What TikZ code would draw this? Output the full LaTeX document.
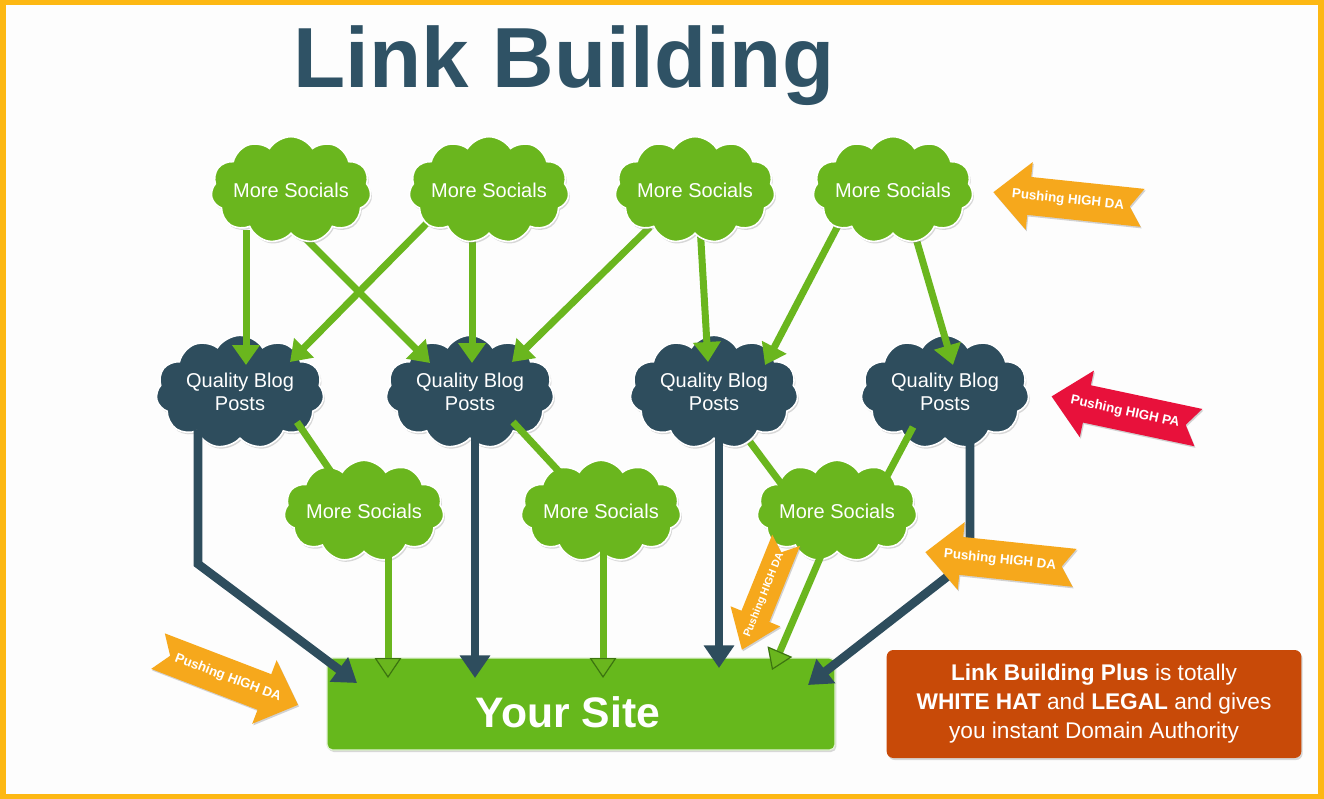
\documentclass[tikz,border=0pt]{standalone}
\usepackage{fontspec}
\setmainfont{Liberation Sans}
\usetikzlibrary{shapes.symbols, arrows.meta, shadows, calc}
\definecolor{frameY}{HTML}{FDB813}
\definecolor{bgc}{HTML}{FDFDFD}
\definecolor{cgreen}{HTML}{6AB61E}
\definecolor{cgreendk}{HTML}{3C7410}
\definecolor{cdark}{HTML}{2E4D5D}
\definecolor{titlec}{HTML}{2F5265}
\definecolor{boxo}{HTML}{C84A08}
\definecolor{porange}{HTML}{F6A81C}
\definecolor{pred}{HTML}{E8113B}
\definecolor{sitegreen}{HTML}{66B81C}
\pgfdeclarelayer{bglayer}
\pgfdeclarelayer{lower}
\pgfdeclarelayer{mid}
\pgfdeclarelayer{upper}
\pgfsetlayers{bglayer,lower,mid,main,upper}
\tikzset{
  gcloud/.style={cloud, cloud puffs=11, cloud puff arc=115, cloud ignores aspect,
    fill=cgreen, draw=white, line width=1.2pt, minimum width=102pt, minimum height=80pt,
    inner sep=0pt, text=white, font=\fontsize{15}{17.25}\selectfont, align=center,
    drop shadow={shadow xshift=1pt, shadow yshift=-1.5pt, opacity=0.3}},
  dcloud/.style={gcloud, fill=cdark, minimum width=126pt, minimum height=85pt},
  bcloud/.style={gcloud, minimum width=108pt, minimum height=76pt},
  gline/.style={draw=cgreen, line width=5.25pt},
  garrow/.style={draw=cgreen, line width=5.25pt, -{Triangle[width=20pt,length=15pt]}},
  gsarrow/.style={draw=cgreen, line width=5.25pt, -{Triangle[width=20pt,length=15pt,fill=cgreen,color=cgreendk,line width=0.9pt]}},
  darrow/.style={draw=cdark, line width=6.5pt, line join=miter, -{Triangle[width=22pt,length=17pt]}},
  pushtext/.style={text=white, font=\bfseries\fontsize{10}{12}\selectfont, inner sep=0pt},
  pushsmall/.style={pushtext, font=\bfseries\fontsize{8}{10}\selectfont},
}
% #1 name, #2 x, #3 y, #4 rotation, #5 direction (1 right, -1 left), #6 colour, #7 text, #8 length, #9 text style
\newcommand{\pusharrow}[9]{%
  \begin{scope}[shift={(#2,#3)}, rotate=#4]
    \fill[#6, xscale=#5, drop shadow={shadow xshift=0.8pt, shadow yshift=-1.2pt, opacity=0.35}]
      ({-#8/2},{0.127*#8}) -- ({#8/2-36},{0.127*#8}) -- ({#8/2-36},{0.227*#8}) -- ({#8/2},0)
      -- ({#8/2-36},{-0.227*#8}) -- ({#8/2-36},{-0.127*#8}) -- ({-#8/2},{-0.127*#8})
      -- ({-#8/2+13},0) -- cycle;
    \node[#9, transform shape] (#1) at (0,0) {#7};
  \end{scope}}
\begin{document}
\begin{tikzpicture}[x=0.75pt, y=-0.75pt]
\useasboundingbox (0,0) rectangle (1324,799);
\begin{pgfonlayer}{bglayer}
\fill[frameY] (0,0) rectangle (1324,799);
\fill[bgc] (6,5) rectangle (1318,794);
\node[anchor=base, inner sep=0pt, text=titlec, font=\bfseries\fontsize{64}{64}\selectfont] (title) at (564,88) {Link Building};
\end{pgfonlayer}
% top clouds (main layer)
\node[gcloud] (t1) at (291,190) {More Socials};
\node[gcloud] (t2) at (489,190) {More Socials};
\node[gcloud] (t3) at (695,190) {More Socials};
\node[gcloud] (t4) at (893,190) {More Socials};
\begin{pgfonlayer}{lower}
\node[dcloud] (d1) at (240,392) {Quality Blog\\Posts};
\node[dcloud] (d2) at (470,392) {Quality Blog\\Posts};
\node[dcloud] (d3) at (714,392) {Quality Blog\\Posts};
\node[dcloud] (d4) at (945,392) {Quality Blog\\Posts};
\node[bcloud] (b1) at (364,511) {More Socials};
\node[bcloud] (b2) at (601,511) {More Socials};
\node[bcloud] (b3) at (837,511) {More Socials};
\end{pgfonlayer}
\begin{pgfonlayer}{mid}
\draw[gline] ($(d1)+(57,30)$) -- ($(b1)+(-22,-23)$);
\draw[gline] ($(d2)+(43,30)$) -- ($(b2)+(-24,-20)$);
\draw[gline] ($(d3)+(36,50)$) -- ($(b3)+(-49,-18)$);
\draw[gline] ($(d4)+(-32,35)$) -- ($(b3)+(41,-18)$);
\draw[garrow] ($(t1)+(-45,40)$) -- ($(d1)+(6,-27)$);
\draw[garrow] ($(t1)+(-1,33)$) -- ($(d2)+(-40,-29)$);
\draw[garrow] ($(t2)+(-62,33)$) -- ($(d1)+(50,-30)$);
\draw[garrow] ($(t2)+(-17,40)$) -- ($(d2)+(2,-29)$);
\draw[garrow] ($(t3)+(-45,37)$) -- ($(d2)+(42,-30)$);
\draw[garrow] ($(t3)+(5,35)$) -- ($(d3)+(-6,-30)$);
\draw[garrow] ($(t4)+(-51,28)$) -- ($(d3)+(51,-27)$);
\draw[garrow] ($(t4)+(17,28)$) -- ($(d4)+(8,-27)$);
\end{pgfonlayer}
% site box and info box
\node[fill=sitegreen, draw=white!80!sitegreen, line width=1pt, rounded corners=4pt,
  minimum width=381pt, minimum height=69pt, inner sep=0pt,
  drop shadow={shadow xshift=1pt, shadow yshift=-1.5pt, opacity=0.3}] (site) at (581,704) {};
\node[text=white, font=\bfseries\fontsize{32}{32}\selectfont, inner sep=0pt] (sitelabel) at (568,712) {Your Site};
\node[fill=boxo, rounded corners=5pt, minimum width=311pt, minimum height=81pt, inner sep=0pt,
  text=white, align=center, font=\fontsize{17}{21.75}\selectfont,
  drop shadow={shadow xshift=1pt, shadow yshift=-1.5pt, opacity=0.3}] (info) at (1094,704)
  {\textbf{Link Building Plus} is totally\\\textbf{WHITE HAT} and \textbf{LEGAL} and gives\\you instant Domain Authority};
\begin{pgfonlayer}{upper}
\draw[darrow] ($(d1)+(-42,38)$) -- ++(0,134) -- ($(site)+(-224,-21)$);
\draw[darrow] ($(d2)+(5,38)$) -- ($(site)+(-106,-26)$);
\draw[darrow] ($(d3)+(5,38)$) -- ($(site)+(138,-36)$);
\draw[darrow] ($(d4)+(25,38)$) -- ++(0,129) -- ($(site)+(227,-19)$);
\draw[gsarrow] ($(b1)+(24,30)$) -- ($(site)+(-193,-26)$);
\draw[gsarrow] ($(b2)+(2,30)$) -- ($(site)+(22,-26)$);
\draw[gsarrow] ($(b3)+(-14,40)$) -- ($(site)+(191,-34)$);
\pusharrow{p1}{1068}{200}{-6}{-1}{porange}{Pushing HIGH DA}{150}{pushtext}
\pusharrow{p2}{1125}{412}{-12}{-1}{pred}{Pushing HIGH PA}{150}{pushtext}
\pusharrow{p3}{1000}{560}{-6}{-1}{porange}{Pushing HIGH DA}{150}{pushtext}
\pusharrow{p4}{228}{678}{-21}{1}{porange}{Pushing HIGH DA}{150}{pushtext}
\pusharrow{p5}{764}{595}{68}{-1}{porange}{Pushing HIGH DA}{118}{pushsmall}
\end{pgfonlayer}
\end{tikzpicture}
\end{document}
